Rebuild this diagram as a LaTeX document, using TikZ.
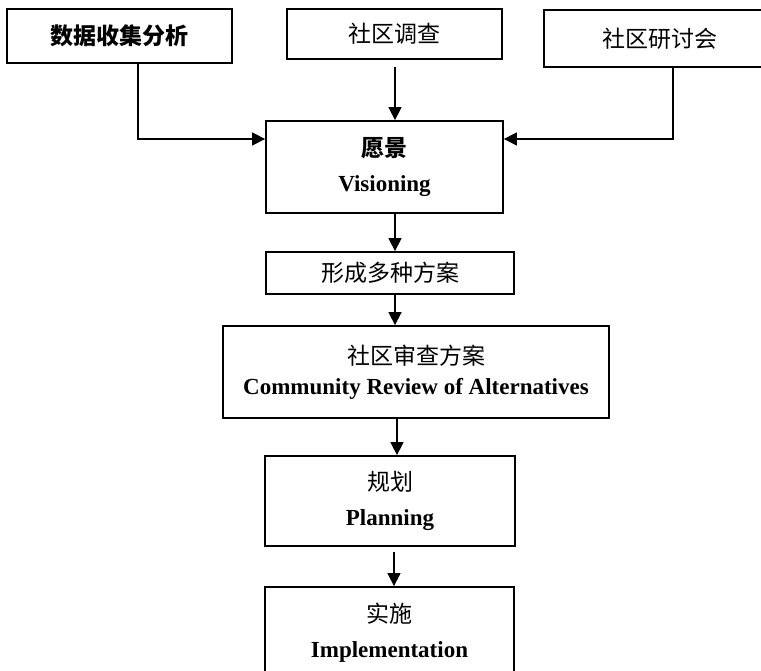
\documentclass[tikz,border=0pt]{standalone}
\usepackage{fontspec}
\setmainfont{Liberation Serif}
\newfontfamily\cjk{Noto Sans CJK SC}
\usetikzlibrary{arrows.meta}
\tikzset{
  box/.style={draw, line width=1.8pt, rectangle, inner sep=0pt, align=center, fill=white},
  topbox/.style={box, font=\cjk\fontsize{23}{28}\selectfont},
  midbox/.style={box, font=\fontsize{23}{35}\selectfont},
  arr/.style={line width=1.4pt, -{Triangle[length=13pt,width=13pt]}},
}
\begin{document}
\begin{tikzpicture}[x=1pt,y=-1pt]
\useasboundingbox (0,0) rectangle (761,671);
\clip (0,0) rectangle (761,671);
\fill[white] (0,0) rectangle (761,671);
% top row
\node[topbox, font=\cjk\bfseries\fontsize{23}{28}\selectfont, minimum width=225pt, minimum height=54pt] (data) at (119.5,36) {数据收集分析};
\node[topbox, minimum width=215pt, minimum height=50pt] (survey) at (394.5,34) {社区调查};
\node[topbox, minimum width=231pt, minimum height=57pt] (work) at (659.5,38.5) {社区研讨会};
% main column
\node[midbox, minimum width=237pt, minimum height=92pt] (vis) at (384.5,167)
  {{\cjk\bfseries 愿景}\\\textbf{Visioning}};
\node[box, font=\cjk\fontsize{23}{28}\selectfont, minimum width=248pt, minimum height=42pt] (alt) at (390,273) {形成多种方案};
\node[box, font=\fontsize{23}{30}\selectfont, minimum width=386pt, minimum height=92pt] (rev) at (416,372)
  {{\cjk 社区审查方案}\\\textbf{Community Review of Alternatives}};
\node[midbox, minimum width=250pt, minimum height=90pt] (plan) at (390,501)
  {{\cjk 规划}\\\textbf{Planning}};
\node[midbox, minimum width=249pt, minimum height=92pt] (impl) at (389.5,633)
  {{\cjk 实施}\\\textbf{Implementation}};
% helper coordinates
\coordinate (c1) at (395,0);
\coordinate (c2) at (397,0);
\coordinate (c3) at (394,0);
\coordinate (cl) at (138,0);
\coordinate (cr) at (673,0);
\coordinate (hy) at (0,139);
% connectors
\draw[arr, shorten <=7pt] (survey.south -| c1) -- (vis.north -| c1);
\draw[arr] (data.south -| cl) |- (vis.west |- hy);
\draw[arr] (work.south -| cr) |- (vis.east |- hy);
\draw[arr] (vis.south -| c1) -- (alt.north -| c1);
\draw[arr] (alt.south -| c1) -- (rev.north -| c1);
\draw[arr] (rev.south -| c2) -- (plan.north -| c2);
\draw[arr, shorten <=5pt] (plan.south -| c3) -- (impl.north -| c3);
\end{tikzpicture}
\end{document}
